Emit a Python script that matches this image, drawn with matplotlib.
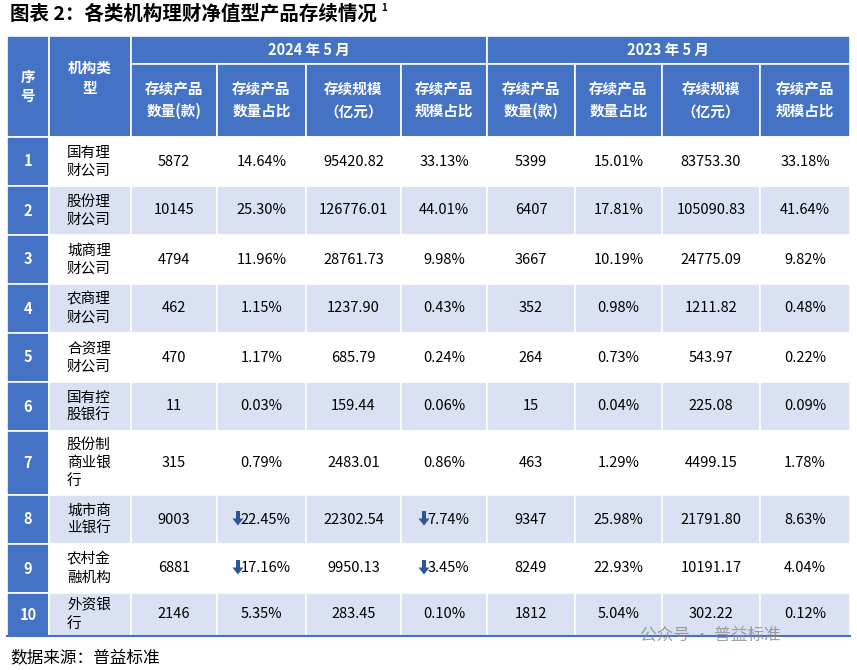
import matplotlib
matplotlib.use("Agg")
import matplotlib.pyplot as plt
import matplotlib.patches as patches

plt.rcParams["font.family"] = ["Noto Sans CJK SC", "DejaVu Sans"]

TITLE = "图表 2：各类机构理财净值型产品存续情况"
SOURCE = "数据来源：普益标准"
PERIODS = ["2024 年 5 月", "2023 年 5 月"]
SUB_HEADERS = ["存续产品\n数量(款)", "存续产品\n数量占比", "存续规模\n（亿元）", "存续产品\n规模占比"]

institutions = ["国有理\n财公司", "股份理\n财公司", "城商理\n财公司", "农商理\n财公司", "合资理\n财公司",
                "国有控\n股银行", "股份制\n商业银\n行", "城市商\n业银行", "农村金\n融机构", "外资银\n行"]
count_2024 = ["5872", "10145", "4794", "462", "470", "11", "315", "9003", "6881", "2146"]
share_2024 = ["14.64%", "25.30%", "11.96%", "1.15%", "1.17%", "0.03%", "0.79%", "22.45%", "17.16%", "5.35%"]
scale_2024 = ["95420.82", "126776.01", "28761.73", "1237.90", "685.79", "159.44", "2483.01", "22302.54", "9950.13", "283.45"]
scale_share_2024 = ["33.13%", "44.01%", "9.98%", "0.43%", "0.24%", "0.06%", "0.86%", "7.74%", "3.45%", "0.10%"]
count_2023 = ["5399", "6407", "3667", "352", "264", "15", "463", "9347", "8249", "1812"]
share_2023 = ["15.01%", "17.81%", "10.19%", "0.98%", "0.73%", "0.04%", "1.29%", "25.98%", "22.93%", "5.04%"]
scale_2023 = ["83753.30", "105090.83", "24775.09", "1211.82", "543.97", "225.08", "4499.15", "21791.80", "10191.17", "302.22"]
scale_share_2023 = ["33.18%", "41.64%", "9.82%", "0.48%", "0.22%", "0.09%", "1.78%", "8.63%", "4.04%", "0.12%"]
down_rows = [7, 8]  # rows with a down arrow on the 2024 share columns

BLUE = "#4472C4"
LIGHT = "#D9E1F2"
col_x = [7, 49, 131, 217, 306, 401, 487, 575, 662, 760, 850]
row_y = [137, 186, 235, 284, 333, 382, 431, 495, 544, 593, 636]
head_top, head_mid = 36, 64

fig = plt.figure(figsize=(8.57, 6.70), dpi=100)
ax = fig.add_axes([0, 0, 1, 1])
ax.set_xlim(0, 857)
ax.set_ylim(670, 0)
ax.axis("off")


def cell(x0, x1, y0, y1, color):
    ax.add_patch(patches.Rectangle((x0, y0), x1 - x0, y1 - y0, facecolor=color,
                                   edgecolor="white", linewidth=1.2))


def down_arrow(x, y):
    # shaft + head, centred on (x, y)
    ax.add_patch(patches.Rectangle((x - 2, y - 8), 4, 8, facecolor="#2F5597", lw=0))
    ax.add_patch(patches.Polygon([(x - 5.5, y), (x + 5.5, y), (x, y + 7)],
                                 facecolor="#2F5597", lw=0))


ax.text(10, 14, TITLE, fontsize=14, fontweight="bold", va="center", ha="left")
ax.text(381, 8, "1", fontsize=7, fontweight="bold", va="center")

# header
cell(col_x[0], col_x[1], head_top, row_y[0], BLUE)
ax.text((col_x[0] + col_x[1]) / 2, (head_top + row_y[0]) / 2, "序\n号", color="white",
        fontsize=10.5, fontweight="bold", ha="center", va="center", linespacing=1.3)
cell(col_x[1], col_x[2], head_top, row_y[0], BLUE)
ax.text((col_x[1] + col_x[2]) / 2, 78, "机构类\n型", color="white",
        fontsize=10.5, fontweight="bold", ha="center", va="center", linespacing=1.3)
for p, period in enumerate(PERIODS):
    x0, x1 = col_x[2 + 4 * p], col_x[6 + 4 * p]
    cell(x0, x1, head_top, head_mid, BLUE)
    ax.text((x0 + x1) / 2, (head_top + head_mid) / 2, period, color="white",
            fontsize=10.5, fontweight="bold", ha="center", va="center")
    for j, sub in enumerate(SUB_HEADERS):
        a, b = col_x[2 + 4 * p + j], col_x[3 + 4 * p + j]
        cell(a, b, head_mid, row_y[0], BLUE)
        ax.text((a + b) / 2, (head_mid + row_y[0]) / 2, sub, color="white",
                fontsize=10.5, fontweight="bold", ha="center", va="center", linespacing=1.4)

columns = [count_2024, share_2024, scale_2024, scale_share_2024,
           count_2023, share_2023, scale_2023, scale_share_2023]
for i, name in enumerate(institutions):
    y0, y1 = row_y[i], row_y[i + 1]
    yc = (y0 + y1) / 2
    bg = "white" if i % 2 == 0 else LIGHT
    cell(col_x[0], col_x[1], y0, y1, BLUE)
    ax.text((col_x[0] + col_x[1]) / 2, yc, str(i + 1), color="white", fontsize=10.5,
            fontweight="bold", ha="center", va="center")
    cell(col_x[1], col_x[2], y0, y1, bg)
    ax.text(col_x[1] + 18, yc, name, fontsize=10.5, ha="left", va="center", linespacing=1.35)
    for j, vals in enumerate(columns):
        a, b = col_x[2 + j], col_x[3 + j]
        cell(a, b, y0, y1, bg)
        xc = (a + b) / 2
        if i in down_rows and j in (1, 3):
            w = len(vals[i]) * 3.6
            ax.text(xc + 4, yc, vals[i], fontsize=10.5, ha="center", va="center")
            down_arrow(xc + 4 - w - 6, yc - 1)
        else:
            ax.text(xc, yc, vals[i], fontsize=10.5, ha="center", va="center")

ax.plot([col_x[0], col_x[-1]], [row_y[-1], row_y[-1]], color=BLUE, lw=1.5)
ax.text(10, 658, SOURCE, fontsize=12, ha="left", va="center")
ax.text(640, 635, "公众号 · 普益标准", fontsize=12, color="#888888", ha="left", va="center", alpha=0.8)

fig.savefig("out.png", dpi=100)
